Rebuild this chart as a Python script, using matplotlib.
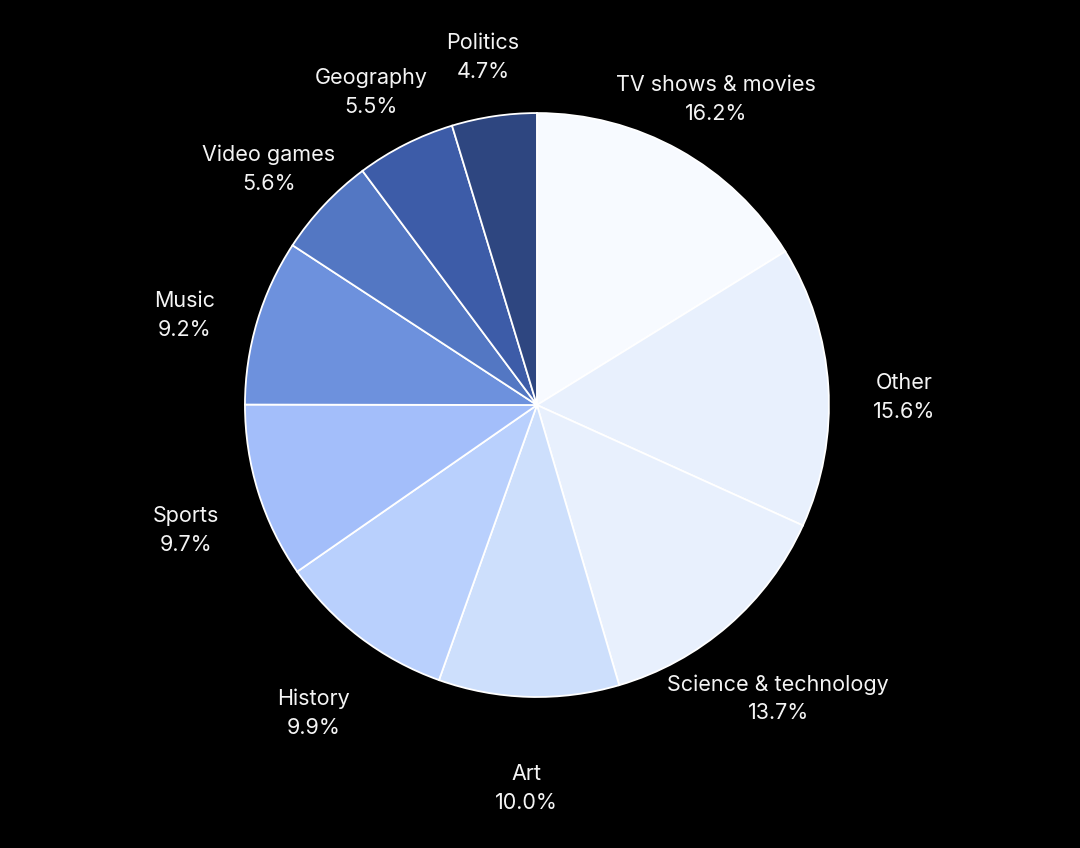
import numpy as np
import matplotlib.pyplot as plt

plt.rcParams['font.family'] = ['Inter', 'DejaVu Sans']

topics = ["TV shows & movies", "Other", "Science & technology", "Art", "History",
          "Sports", "Music", "Video games", "Geography", "Politics"]
shares = [16.2, 15.6, 13.7, 10.0, 9.9, 9.7, 9.2, 5.6, 5.5, 4.7]
colors = ["#f7faff", "#e8f0fd", "#e8f0fd", "#cddffc", "#b9d0fd",
          "#a3befa", "#6d91dd", "#5377c3", "#3d5ca8", "#2e4680"]

fig = plt.figure(figsize=(10.8, 8.48), dpi=100)
fig.patch.set_facecolor("black")
ax = fig.add_axes([0, 0, 1, 1])
ax.set_facecolor("black")

wedges, _ = ax.pie(shares, colors=colors, startangle=90, counterclock=False,
                   radius=1.0, normalize=True,
                   wedgeprops=dict(edgecolor="white", linewidth=1.3))

for w, name, val in zip(wedges, topics, shares):
    ang = np.deg2rad((w.theta1 + w.theta2) / 2)
    x = 1.26 * np.cos(ang)
    y = 1.26 * np.sin(ang) - 0.055
    ax.text(x, y, f"{name}\n{val:.1f}%", ha="center", va="center",
            color="#f4f4f4", fontsize=15.5, linespacing=1.55)

ax.set_xlim(-1.839, 1.860)
ax.set_ylim(-1.517, 1.387)
ax.axis("off")

fig.savefig("out.png", dpi=100, facecolor="black")
